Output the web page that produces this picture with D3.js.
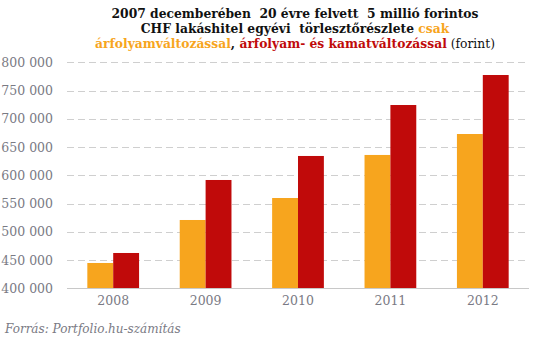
<!DOCTYPE html>
<html><head><meta charset="utf-8">
<script src="https://cdn.jsdelivr.net/npm/d3@7"></script>
<style>body{margin:0;background:#fff}svg{display:block}</style>
</head><body>
<script>
const years = ["2008","2009","2010","2011","2012"];
const seriesNames = ["árfolyamváltozással","árfolyam- és kamatváltozással"];
const fxOnly = [444800, 520900, 559800, 636000, 673100];
const fxAndRate = [462500, 591700, 634200, 724400, 777500];
const yTicks = [400000,450000,500000,550000,600000,650000,700000,750000,800000];
const colors = ["#f7a51e","#c00a0a"];

const W=542,H=342;
const svg=d3.select("body").append("svg").attr("width",W).attr("height",H);
const serif="Georgia, 'DejaVu Serif', serif";

const x0=d3.scaleBand().domain(years).range([67,529]).paddingInner(0.44).paddingOuter(0.22);
const x1=d3.scaleBand().domain([0,1]).range([0,x0.bandwidth()]);
const y=d3.scaleLinear().domain([400000,800000]).range([288.3,62.3]);

const fmt=v=>d3.format(",")(v).replace(/,/g," ");

// grid
svg.append("g").selectAll("line").data(yTicks.slice(1)).join("line")
  .attr("x1",67).attr("x2",527).attr("y1",d=>Math.round(y(d))+0.5).attr("y2",d=>Math.round(y(d))+0.5)
  .attr("stroke","#cfcfcf").attr("stroke-dasharray","7,4");

// y axis labels
const yAxis=d3.axisLeft(y).tickValues(yTicks).tickFormat(fmt).tickSize(0).tickPadding(0);
const ga=svg.append("g").attr("transform","translate(53,0)").call(yAxis);
ga.select(".domain").remove();
ga.selectAll("text").attr("font-family",serif).attr("font-size",12.5).attr("fill","#7a7a84");

// bars
const data=years.map((yr,i)=>({yr,v:[fxOnly[i],fxAndRate[i]]}));
svg.append("g").selectAll("g").data(data).join("g")
  .attr("transform",d=>`translate(${x0(d.yr)},0)`)
  .selectAll("rect").data(d=>d.v.map((v,k)=>({v,k}))).join("rect")
  .attr("x",d=>x1(d.k)).attr("width",x1.bandwidth())
  .attr("y",d=>y(d.v)).attr("height",d=>y(400000)-y(d.v))
  .attr("fill",d=>colors[d.k]);

// baseline
svg.append("line").attr("x1",67).attr("x2",529).attr("y1",288.5).attr("y2",288.5).attr("stroke","#c8c8c8");

// x axis
const xa=svg.append("g").attr("transform","translate(0,296)").call(d3.axisBottom(x0).tickSize(0).tickPadding(0));
xa.select(".domain").remove();
xa.selectAll("text").attr("font-family",serif).attr("font-size",12.5).attr("fill","#7a7a84").attr("dy","0.71em");

// title
const t=svg.append("text").attr("text-anchor","middle").attr("font-family",serif).attr("font-weight","bold")
  .attr("font-size",12.3).attr("fill","#111").style("white-space","pre");
t.append("tspan").attr("x",295).attr("y",18).text("2007 decemberében  20 évre felvett  5 millió forintos");
t.append("tspan").attr("x",295).attr("y",33).text("CHF lakáshitel egyévi  törlesztőrészlete ").append("tspan").attr("fill",colors[0]).text("csak");
const l3=t.append("tspan").attr("x",295).attr("y",48);
l3.append("tspan").attr("fill",colors[0]).text(seriesNames[0]);
l3.append("tspan").attr("fill","#111").text(", ");
l3.append("tspan").attr("fill",colors[1]).text(seriesNames[1]);
l3.append("tspan").attr("fill","#111").attr("font-weight","normal").text(" (forint)");

// footer
svg.append("text").attr("x",5).attr("y",333).attr("font-family",serif).attr("font-style","italic").attr("font-size",12).attr("fill","#7a7a84").text("Forrás: Portfolio.hu-számítás");
</script>
</body></html>
